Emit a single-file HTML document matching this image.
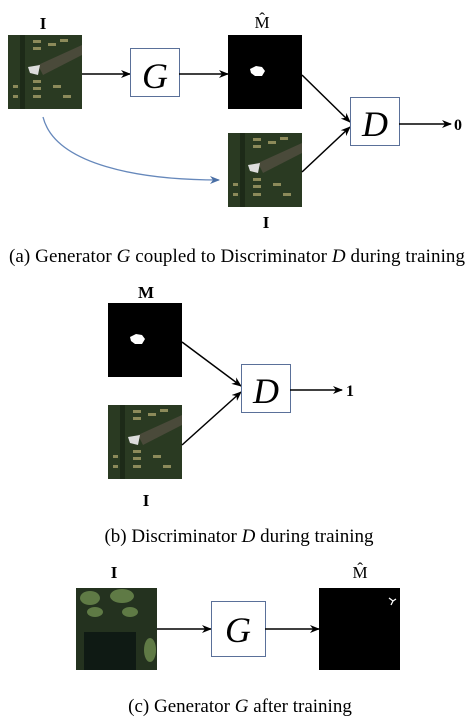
<!DOCTYPE html>
<html><head><style>body{margin:0;background:#fff}svg{display:block}</style></head><body>
<svg width="474" height="725" viewBox="0 0 474 725" xmlns="http://www.w3.org/2000/svg" xmlns:xlink="http://www.w3.org/1999/xlink" font-family="Liberation Serif, serif">
<defs>
<marker id="ah" markerWidth="10" markerHeight="8" refX="9" refY="4" orient="auto" markerUnits="userSpaceOnUse"><path d="M0,0 L10,4 L0,8 L3,4 z" fill="#000"/></marker>
<marker id="bh" markerWidth="10" markerHeight="8" refX="9" refY="4" orient="auto" markerUnits="userSpaceOnUse"><path d="M0,0 L10,4 L0,8 L3,4 z" fill="#4a6fa5"/></marker>
<g id="aer">
<rect width="74" height="74" fill="#2a3a22"/>
<rect x="12" y="0" width="5" height="74" fill="#1d2a18"/>
<path d="M30,30 L74,10 L74,20 L35,40z" fill="#4a4a3a"/>
<g fill="#8c8a5a"><rect x="25" y="5" width="8" height="3"/><rect x="25" y="12" width="8" height="3"/><rect x="40" y="8" width="8" height="3"/><rect x="52" y="4" width="8" height="3"/><rect x="25" y="45" width="8" height="3"/><rect x="25" y="52" width="8" height="3"/><rect x="25" y="60" width="8" height="3"/><rect x="45" y="50" width="8" height="3"/><rect x="55" y="60" width="8" height="3"/><rect x="5" y="50" width="5" height="3"/><rect x="5" y="60" width="5" height="3"/></g>
<path d="M20,32 L32,30 L30,40 L22,38z" fill="#ddd"/>
</g>
</defs>
<rect width="474" height="725" fill="#fff"/>
<!-- (a) -->
<text x="43" y="29" font-size="17" font-weight="bold" text-anchor="middle">I</text>
<use xlink:href="#aer" x="8" y="35"/>
<line x1="82" y1="74" x2="130" y2="74" stroke="#000" stroke-width="1.5" marker-end="url(#ah)"/>
<rect x="130.5" y="48.5" width="49" height="48" fill="#fff" stroke="#5a7099"/>
<text x="155" y="88" font-size="36" font-style="italic" text-anchor="middle">G</text>
<line x1="179" y1="74" x2="228" y2="74" stroke="#000" stroke-width="1.5" marker-end="url(#ah)"/>
<text x="262" y="28" font-size="17" text-anchor="middle">M̂</text>
<rect x="228" y="35" width="74" height="74" fill="#000"/>
<path d="M250,69 L256,66 L262,67 L265,71 L262,76 L255,76 L251,73z" fill="#fff"/>
<use xlink:href="#aer" x="228" y="133"/>
<text x="266" y="228" font-size="17" font-weight="bold" text-anchor="middle">I</text>
<line x1="302" y1="75" x2="350" y2="122" stroke="#000" stroke-width="1.5" marker-end="url(#ah)"/>
<line x1="302" y1="172" x2="350" y2="127" stroke="#000" stroke-width="1.5" marker-end="url(#ah)"/>
<rect x="350.5" y="97.5" width="49" height="48" fill="#fff" stroke="#5a7099"/>
<text x="375" y="136" font-size="36" font-style="italic" text-anchor="middle">D</text>
<line x1="399" y1="124" x2="451" y2="124" stroke="#000" stroke-width="1.5" marker-end="url(#ah)"/>
<text x="458" y="130" font-size="16" font-weight="bold" text-anchor="middle">0</text>
<path d="M43,117 C55,165 140,180 219,180" fill="none" stroke="#6688bb" stroke-width="1.3" marker-end="url(#bh)"/>
<text x="237" y="262" font-size="19" text-anchor="middle" textLength="456">(a) Generator <tspan font-style="italic">G</tspan> coupled to Discriminator <tspan font-style="italic">D</tspan> during training</text>
<!-- (b) -->
<text x="146" y="298" font-size="17" font-weight="bold" text-anchor="middle">M</text>
<rect x="108" y="303" width="74" height="74" fill="#000"/>
<path d="M130,337 L136,334 L142,335 L145,339 L142,344 L135,344 L131,341z" fill="#fff"/>
<use xlink:href="#aer" x="108" y="405"/>
<text x="146" y="506" font-size="17" font-weight="bold" text-anchor="middle">I</text>
<line x1="182" y1="342" x2="241" y2="386" stroke="#000" stroke-width="1.5" marker-end="url(#ah)"/>
<line x1="182" y1="445" x2="241" y2="392" stroke="#000" stroke-width="1.5" marker-end="url(#ah)"/>
<rect x="241.5" y="364.5" width="49" height="48" fill="#fff" stroke="#5a7099"/>
<text x="266" y="403" font-size="36" font-style="italic" text-anchor="middle">D</text>
<line x1="290" y1="390" x2="342" y2="390" stroke="#000" stroke-width="1.5" marker-end="url(#ah)"/>
<text x="350" y="396" font-size="16" font-weight="bold" text-anchor="middle">1</text>
<text x="239" y="542" font-size="19" text-anchor="middle">(b) Discriminator <tspan font-style="italic">D</tspan> during training</text>
<!-- (c) -->
<text x="114" y="578" font-size="17" font-weight="bold" text-anchor="middle">I</text>
<rect x="76" y="588" width="81" height="82" fill="#24321f"/>
<g fill="#5f7a45"><ellipse cx="90" cy="598" rx="10" ry="7"/><ellipse cx="122" cy="596" rx="12" ry="7"/><ellipse cx="95" cy="612" rx="8" ry="5"/><ellipse cx="130" cy="612" rx="8" ry="5"/><ellipse cx="150" cy="650" rx="6" ry="12"/></g>
<rect x="84" y="632" width="52" height="38" fill="#0f1a14"/>
<line x1="157" y1="629" x2="211" y2="629" stroke="#000" stroke-width="1.5" marker-end="url(#ah)"/>
<rect x="211.5" y="601.5" width="54" height="55" fill="#fff" stroke="#5a7099"/>
<text x="238" y="642" font-size="36" font-style="italic" text-anchor="middle">G</text>
<line x1="265" y1="629" x2="319" y2="629" stroke="#000" stroke-width="1.5" marker-end="url(#ah)"/>
<text x="360" y="578" font-size="17" text-anchor="middle">M̂</text>
<rect x="319" y="588" width="81" height="82" fill="#000"/>
<path d="M389,598 L393,601 L396,599 M393,601 L391,605" stroke="#fff" stroke-width="1.3" fill="none"/>
<text x="240" y="712" font-size="19" text-anchor="middle">(c) Generator <tspan font-style="italic">G</tspan> after training</text>
</svg>
</body></html>
